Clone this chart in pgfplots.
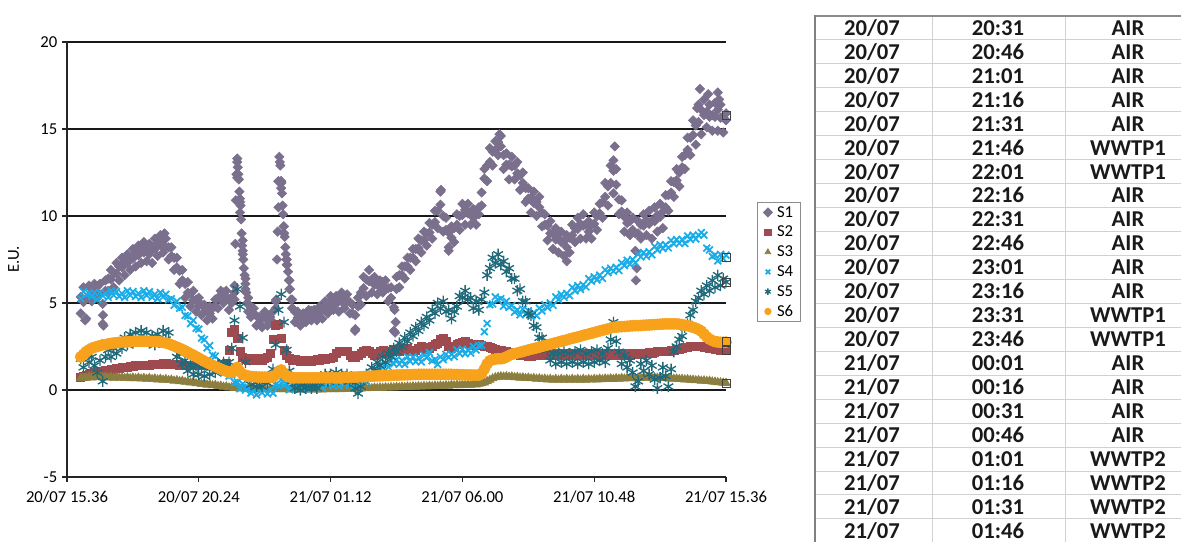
\documentclass[border=0pt]{standalone}
\usepackage{pgfplots}
\pgfplotsset{compat=1.18}
\usepackage{pgfplotstable}
\usepackage{fontspec}
\setmainfont{Carlito}

\definecolor{cS1}{RGB}{122,111,140}
\definecolor{cS2}{RGB}{158,74,78}
\definecolor{cS3}{RGB}{140,126,62}
\definecolor{cS4}{RGB}{26,172,230}
\definecolor{cS5}{RGB}{30,105,122}
\definecolor{cS6}{RGB}{248,162,28}
\newcommand\tabfont{\fontsize{17}{20}\selectfont\bfseries}

% h = hours after 20/07 15.36 ; a,b = two S1 readings per step
\pgfplotstableread{
h a b s2 s3 s4 s5 s6
0.5 5.35 4.4 0.75 0.68 5.25 1.8 1.9
0.6 5.9 5.05 0.8 0.74 5.65 1.3 2.05
0.7 5.25 4.1 0.85 0.70 5.48 2.1 2.2
0.8 6.0 5.35 0.9 0.76 5.55 1.6 2.3
0.9 5.8 5.1 0.95 0.71 5.37 1.9 2.4
1.0 6.1 5.65 1.0 0.76 5.6 1.4 2.45
1.1 5.95 5.3 1.05 0.72 5.2 1.0 2.5
1.2 6.1 5.5 1.1 0.77 5.6 1.7 2.55
1.3 4.95 3.8 1.1 0.72 5.43 0.5 2.6
1.4 6.3 5.7 1.15 0.76 5.55 1.9 2.6
1.5 6.4 5.7 1.15 0.71 5.32 2.3 2.65
1.6 6.9 6.35 1.2 0.75 5.7 1.9 2.68
1.7 6.7 5.9 1.2 0.70 5.45 2.4 2.7
1.8 7.3 6.7 1.25 0.74 5.65 2.1 2.72
1.9 7.1 6.3 1.25 0.69 5.38 2.7 2.74
2.0 7.6 7.05 1.3 0.73 5.55 2.4 2.75
2.1 7.35 6.6 1.3 0.68 5.32 3.0 2.76
2.2 7.8 7.3 1.3 0.72 5.7 2.6 2.77
2.3 7.6 6.9 1.35 0.67 5.45 3.2 2.78
2.4 8.1 7.55 1.35 0.71 5.65 2.7 2.79
2.5 7.85 7.1 1.4 0.66 5.38 3.3 2.8
2.6 8.3 7.75 1.4 0.70 5.55 2.8 2.8
2.7 8.05 7.3 1.4 0.65 5.32 3.4 2.8
2.8 8.5 7.9 1.45 0.69 5.7 2.9 2.8
2.9 8.2 7.4 1.45 0.64 5.45 3.3 2.8
3.0 8.4 7.8 1.45 0.68 5.65 2.7 2.8
3.1 8.1 7.3 1.5 0.62 5.33 3.1 2.79
3.2 8.7 8.1 1.5 0.66 5.5 2.6 2.79
3.3 8.45 7.7 1.5 0.60 5.24 3.2 2.78
3.4 8.9 8.35 1.5 0.64 5.6 2.8 2.76
3.5 8.6 7.9 1.55 0.58 5.35 3.4 2.73
3.6 8.7 8.2 1.55 0.62 5.5 2.9 2.7
3.7 8.2 7.5 1.5 0.56 5.18 3.3 2.66
3.8 8.2 7.7 1.5 0.59 5.25 2.6 2.6
3.9 7.6 6.9 1.5 0.53 4.87 2.5 2.53
4.0 7.6 7.05 1.5 0.56 5.1 1.9 2.46
4.1 6.85 6.1 1.45 0.50 4.7 2.1 2.4
4.2 6.9 6.3 1.45 0.52 4.75 1.5 2.33
4.3 6.1 5.3 1.45 0.46 4.28 1.7 2.25
4.4 6.2 5.6 1.4 0.48 4.25 1.1 2.17
4.5 5.55 4.8 1.4 0.42 3.82 1.4 2.08
4.6 5.7 5.15 1.4 0.44 4.0 0.9 2.0
4.7 5.2 4.5 1.4 0.38 3.55 1.4 1.92
4.8 5.3 4.85 1.4 0.40 3.5 0.9 1.83
4.9 4.9 4.3 1.4 0.34 2.98 1.3 1.74
5.0 4.9 4.5 1.4 0.36 2.9 0.8 1.65
5.1 4.55 4.0 1.4 0.30 2.42 1.4 1.57
5.2 4.8 4.4 1.4 0.32 2.55 0.9 1.5
5.3 4.7 4.1 1.4 0.26 2.0 1.3 1.42
5.4 5.2 4.8 1.45 0.28 1.95 1.0 1.35
5.5 5.3 4.7 1.45 0.22 1.43 1.5 1.28
5.6 5.7 5.3 1.5 0.24 1.4 1.2 1.2
5.7 5.6 5.0 1.5 0.18 0.97 1.6 1.14
5.8 5.7 5.25 1.55 0.20 1.2 1.3 1.08
5.9 5.25 4.6 2.3 0.14 0.8 1.6 1.02
6.0 5.3 5.0 3.3 0.16 0.85 2.4 1.0
6.1 6.0 5.2 3.5 0.11 0.43 4.0 1.15
6.2 13.1 12.2 3.0 0.13 0.45 5.8 1.3
6.3 11.0 10.2 2.2 0.08 0.07 4.8 1.05
6.4 8.6 7.8 1.9 0.10 0.35 3.0 0.9
6.5 6.4 5.8 1.8 0.06 0.0 1.6 0.85
6.6 5.3 4.9 1.7 0.08 0.15 0.8 0.8
6.7 4.8 4.2 1.8 0.04 -0.17 0.3 0.78
6.8 4.7 4.35 1.7 0.07 -0.05 0.6 0.76
6.9 4.25 3.7 1.75 0.03 -0.28 0.2 0.75
7.0 4.2 3.85 1.8 0.06 0.1 0.5 0.74
7.1 4.2 3.6 1.7 0.03 -0.15 0.2 0.74
7.2 4.5 4.15 1.8 0.06 0.0 0.6 0.74
7.3 4.2 3.7 1.9 0.03 -0.22 0.4 0.74
7.4 4.2 3.9 2.1 0.06 0.0 0.7 0.74
7.5 4.5 3.9 2.9 0.03 -0.18 1.2 0.74
7.6 5.1 4.7 3.7 0.06 0.3 2.6 0.85
7.7 12.0 10.5 3.8 0.03 0.25 4.6 1.05
7.8 12.0 11.6 3.0 0.06 0.6 5.5 1.15
7.9 9.4 9.0 2.3 0.03 0.28 3.9 0.95
8.0 7.5 7.2 2.0 0.05 0.35 2.3 0.82
8.1 6.3 5.8 1.8 0.02 0.02 1.1 0.75
8.2 5.2 4.7 1.7 0.05 0.35 0.5 0.7
8.3 4.5 3.9 1.75 0.02 0.15 0.1 0.7
8.4 4.5 4.15 1.7 0.05 0.35 0.4 0.7
8.5 4.25 3.7 1.65 0.02 0.13 0.0 0.7
8.6 4.4 4.1 1.7 0.05 0.3 0.3 0.7
8.7 4.4 3.9 1.65 0.02 0.07 0.1 0.7
8.8 4.6 4.3 1.7 0.05 0.45 0.4 0.7
8.9 4.55 4.0 1.65 0.02 0.25 0.1 0.7
9.0 4.6 4.25 1.7 0.05 0.45 0.3 0.7
9.1 4.5 4.0 1.75 0.02 0.18 0.1 0.7
9.2 4.8 4.45 1.7 0.05 0.35 0.4 0.7
9.3 4.7 4.1 1.8 0.02 0.12 0.6 0.7
9.4 5.1 4.7 1.75 0.05 0.5 0.9 0.7
9.5 5.0 4.4 1.8 0.03 0.3 0.5 0.7
9.6 5.4 4.95 1.85 0.06 0.5 0.9 0.7
9.7 5.25 4.6 1.9 0.03 0.23 0.6 0.7
9.8 5.4 4.95 2.1 0.06 0.4 1.0 0.7
9.9 5.15 4.5 2.2 0.04 0.22 0.6 0.7
10.0 5.6 5.1 2.2 0.07 0.6 0.9 0.7
10.1 5.4 4.7 2.25 0.05 0.35 0.6 0.72
10.2 5.5 5.05 2.2 0.08 0.55 0.9 0.72
10.3 5.05 4.4 2.0 0.06 0.28 0.5 0.73
10.4 4.9 4.4 1.9 0.09 0.5 0.6 0.74
10.5 4.3 3.5 1.9 0.07 0.27 0.1 0.74
10.6 5.3 4.8 2.0 0.10 0.65 -0.2 0.75
10.7 5.6 4.9 2.1 0.08 0.45 0.2 0.76
10.8 6.5 5.85 2.2 0.11 0.7 0.6 0.77
10.9 6.35 5.4 2.3 0.09 0.48 0.9 0.77
11.0 6.9 6.25 2.25 0.12 0.8 0.8 0.78
11.1 6.35 5.6 2.1 0.10 0.72 1.3 0.8
11.2 6.5 6.05 2.0 0.13 1.2 1.1 0.8
11.3 6.1 5.5 2.1 0.11 1.1 1.6 0.81
11.4 6.3 5.9 2.2 0.14 1.45 1.4 0.82
11.5 6.2 5.6 2.3 0.12 1.28 1.9 0.82
11.6 6.3 5.85 2.2 0.15 1.5 1.6 0.83
11.7 5.85 5.1 2.1 0.13 1.32 2.1 0.84
11.8 5.9 5.3 2.2 0.16 1.7 1.9 0.84
11.9 4.75 3.4 2.35 0.14 1.5 2.4 0.85
12.0 6.5 5.8 2.3 0.17 1.75 2.2 0.86
12.1 6.6 5.9 2.2 0.15 1.48 2.7 0.86
12.2 7.1 6.6 2.3 0.18 1.7 2.5 0.87
12.3 7.1 6.4 2.4 0.16 1.47 3.0 0.87
12.4 7.6 7.1 2.4 0.19 1.9 2.8 0.88
12.5 7.6 6.9 2.3 0.17 1.65 3.3 0.88
12.6 8.1 7.6 2.2 0.20 1.9 3.1 0.89
12.7 8.1 7.4 2.3 0.18 1.63 3.6 0.89
12.8 8.7 8.15 2.4 0.21 1.85 3.4 0.9
12.9 8.6 7.9 2.5 0.19 1.62 3.9 0.9
13.0 9.1 8.6 2.45 0.22 2.0 3.7 0.9
13.1 9.0 8.3 2.35 0.20 1.85 4.2 0.9
13.2 9.6 9.05 2.4 0.23 2.15 4.0 0.9
13.3 9.5 8.7 2.5 0.21 1.68 4.6 0.9
13.4 10.3 9.65 2.6 0.24 1.75 4.4 0.9
13.5 10.3 9.3 2.7 0.22 1.47 5.0 0.9
13.6 11.4 10.65 2.9 0.25 1.9 4.7 0.9
13.7 10.0 9.1 3.0 0.23 1.75 5.1 0.9
13.8 9.9 9.2 2.8 0.26 2.05 4.5 0.9
13.9 9.05 8.2 2.5 0.24 1.88 4.6 0.9
14.0 9.4 8.75 2.4 0.28 2.05 4.1 0.9
14.1 9.3 8.5 2.5 0.26 1.92 4.5 0.89
14.2 10.1 9.5 2.6 0.29 2.3 4.8 0.89
14.3 10.0 9.2 2.7 0.27 2.1 5.4 0.88
14.4 10.7 10.05 2.75 0.30 2.35 5.3 0.88
14.5 10.35 9.5 2.8 0.28 2.08 5.7 0.87
14.6 10.7 10.15 2.7 0.31 2.3 5.2 0.87
14.7 10.2 9.5 2.6 0.29 2.12 5.3 0.86
14.8 10.4 9.9 2.55 0.33 2.5 4.7 0.86
14.9 10.15 9.5 2.6 0.31 2.3 5.1 0.85
15.0 10.5 10.1 2.6 0.35 2.55 4.6 0.85
15.1 11.35 10.6 2.55 0.38 2.58 5.2 0.95
15.2 12.7 12.15 2.5 0.42 3.35 5.6 1.2
15.3 12.9 12.0 2.5 0.50 3.82 6.6 1.5
15.4 13.9 13.1 2.45 0.58 4.9 7.0 1.68
15.5 13.7 12.9 2.4 0.66 4.95 7.6 1.75
15.6 14.3 13.8 2.35 0.72 5.35 7.3 1.78
15.7 14.25 13.5 2.3 0.76 5.18 7.8 1.8
15.8 14.6 14.0 2.3 0.78 5.25 7.2 1.8
15.9 13.5 12.7 2.25 0.76 4.82 7.4 1.82
16.0 13.6 12.95 2.2 0.78 5.1 6.8 1.9
16.1 12.95 12.1 2.15 0.75 4.75 7.0 1.98
16.2 13.4 12.85 2.1 0.77 4.85 6.4 2.05
16.3 12.9 12.1 2.1 0.73 4.48 6.4 2.09
16.4 13.1 12.45 2.05 0.74 4.6 5.7 2.13
16.5 12.35 11.5 2.0 0.70 4.32 5.8 2.17
16.6 12.5 11.9 2.0 0.72 4.65 5.1 2.21
16.7 11.6 10.8 2.0 0.68 4.35 5.1 2.26
16.8 11.6 11.0 1.95 0.70 4.55 4.4 2.3
16.9 11.05 10.2 1.95 0.66 4.23 4.3 2.34
17.0 11.4 10.75 2.0 0.68 4.45 3.7 2.38
17.1 10.8 10.0 2.05 0.64 4.27 3.6 2.42
17.2 11.1 10.5 2.0 0.66 4.7 3.0 2.46
17.3 10.2 9.4 2.1 0.62 4.55 3.0 2.51
17.4 10.1 9.5 2.05 0.64 4.9 2.5 2.55
17.5 9.45 8.6 2.0 0.60 4.73 2.3 2.59
17.6 9.7 9.0 2.1 0.63 5.0 1.7 2.63
17.7 9.0 8.1 2.05 0.58 4.87 2.1 2.67
17.8 9.3 8.65 2.0 0.63 5.35 1.5 2.72
17.9 8.75 7.9 2.1 0.58 5.2 2.1 2.76
18.0 9.1 8.5 2.05 0.63 5.5 1.6 2.8
18.1 8.55 7.7 2.0 0.58 5.33 2.2 2.84
18.2 8.9 8.2 2.1 0.63 5.55 1.5 2.88
18.3 8.75 7.9 2.05 0.58 5.42 2.1 2.93
18.4 9.5 8.9 2.0 0.63 5.9 1.6 2.97
18.5 9.3 8.5 2.1 0.58 5.7 2.2 3.01
18.6 9.9 9.25 2.05 0.63 6.0 1.5 3.05
18.7 9.55 8.7 2.0 0.58 5.78 2.3 3.09
18.8 10.1 9.45 2.1 0.63 6.05 1.6 3.14
18.9 9.5 8.7 2.05 0.58 5.92 2.1 3.18
19.0 9.7 9.1 2.0 0.62 6.4 1.5 3.22
19.1 9.5 8.7 2.1 0.59 6.25 2.2 3.26
19.2 10.2 9.55 2.05 0.63 6.5 1.6 3.3
19.3 10.0 9.2 2.0 0.60 6.33 2.3 3.35
19.4 10.7 10.15 2.1 0.64 6.6 1.7 3.39
19.5 10.8 9.9 2.05 0.61 6.42 2.1 3.43
19.6 11.9 11.1 2.0 0.65 6.9 1.6 3.47
19.7 11.7 10.6 2.1 0.62 6.75 2.4 3.51
19.8 12.9 11.9 2.05 0.66 7.0 2.9 3.56
19.9 12.6 11.3 2.0 0.63 6.83 3.9 3.6
20.0 12.7 11.8 2.1 0.67 7.05 2.8 3.62
20.1 10.95 10.1 2.05 0.64 6.87 2.2 3.63
20.2 10.9 10.25 2.0 0.68 7.3 1.5 3.64
20.3 9.95 9.1 2.1 0.65 7.15 2.0 3.65
20.4 10.2 9.6 2.05 0.69 7.45 1.3 3.66
20.5 9.7 8.9 2.0 0.66 7.23 1.7 3.68
20.6 9.9 9.2 2.1 0.70 7.5 1.0 3.69
20.7 9.0 8.0 2.05 0.67 7.32 0.2 3.7
20.8 9.7 9.0 2.1 0.71 7.8 0.5 3.7
20.9 9.5 8.7 2.05 0.68 7.65 1.5 3.71
21.0 10.1 9.45 2.1 0.72 7.9 1.1 3.72
21.1 9.75 8.9 2.1 0.69 7.68 1.7 3.73
21.2 10.3 9.55 2.15 0.72 7.95 0.9 3.74
21.3 9.75 8.7 2.1 0.69 7.77 1.4 3.75
21.4 10.5 9.7 2.15 0.72 8.25 0.6 3.76
21.5 10.05 9.1 2.2 0.70 8.05 0.1 3.77
21.6 10.7 9.95 2.2 0.71 8.35 0.7 3.78
21.7 10.25 9.3 2.2 0.68 8.13 1.3 3.79
21.8 11.2 10.5 2.25 0.69 8.35 0.8 3.8
21.9 11.2 10.3 2.25 0.66 8.17 0.2 3.8
22.0 12.0 11.35 2.3 0.67 8.6 1.2 3.8
22.1 11.95 11.1 2.3 0.64 8.4 2.2 3.8
22.2 12.7 12.05 2.35 0.65 8.65 2.5 3.8
22.3 12.5 11.7 2.35 0.62 8.43 2.9 3.78
22.4 13.4 12.8 2.4 0.63 8.65 3.1 3.76
22.5 13.5 12.7 2.45 0.60 8.42 3.6 3.72
22.6 14.5 13.8 2.45 0.61 8.85 3.8 3.7
22.7 14.5 13.5 2.5 0.58 8.65 4.3 3.65
22.8 15.5 14.65 2.5 0.58 8.9 4.6 3.6
22.9 15.2 14.1 2.5 0.55 8.68 5.1 3.55
23.0 16.4 15.4 2.5 0.56 8.9 5.3 3.48
23.1 16.1 14.7 2.5 0.53 9.05 5.7 3.38
23.2 16.7 15.8 2.45 0.54 8.9 5.5 3.22
23.3 16.0 15.1 2.45 0.51 8.15 6.0 3.05
23.4 16.4 15.7 2.4 0.52 8.05 5.7 2.92
23.5 15.8 14.9 2.4 0.48 7.68 6.3 2.84
23.6 16.5 15.7 2.35 0.47 7.75 5.9 2.78
23.7 16.1 14.9 2.35 0.44 7.42 6.6 2.76
23.8 16.4 15.65 2.3 0.43 7.8 6.0 2.74
23.9 15.65 14.8 2.3 0.41 7.55 6.4 2.74
24.0 15.9 15.5 2.3 0.40 7.75 6.2 2.75
}\sdata

% further S1 readings: the two fast peaks and isolated outliers
\pgfplotstableread{
h v
6.10 5.6
6.13 8.4
6.15 10.9
6.17 12.4
6.20 13.3
6.22 12.8
6.24 12.4
6.26 12.1
6.28 11.4
6.30 10.8
6.32 10.6
6.34 9.8
6.36 9.0
6.38 8.3
6.40 8.0
6.42 7.5
6.44 7.0
6.47 6.6
6.50 6.1
6.53 5.6
6.56 5.0
6.60 4.5
7.62 5.2
7.65 7.5
7.67 9.1
7.70 12.0
7.73 13.4
7.75 13.1
7.77 12.9
7.79 12.0
7.81 11.9
7.83 11.3
7.85 10.6
7.87 10.1
7.89 9.4
7.91 9.0
7.93 8.8
7.95 8.2
7.97 7.8
7.99 7.5
8.02 7.2
8.05 6.8
8.08 6.3
8.12 5.8
8.16 5.2
8.20 4.7
0.66 4.0
1.31 4.3
1.33 3.7
3.45 8.3
3.55 9.0
10.49 3.4
11.93 4.6
11.95 3.3
11.97 3.9
13.62 11.5
13.90 8.0
15.75 14.7
18.20 7.4
19.90 13.2
19.95 14.0
20.72 6.3
20.75 7.0
22.95 16.2
23.05 17.3
23.35 17.0
23.70 17.1
23.75 16.7
}\sonex

\begin{document}
\begin{tikzpicture}
\useasboundingbox (0pt,0pt) rectangle (885.75pt,406.5pt);
\begin{axis}[
  at={(50.25pt,48.75pt)}, anchor=south west,
  width=494.25pt, height=326.25pt, scale only axis,
  xmin=0, xmax=24, ymin=-5, ymax=20,
  axis lines*=left,
  axis line style={black!85, line width=1pt},
  xtick={0,4.8,9.6,14.4,19.2,24},
  xticklabels={20/07 15.36,20/07 20.24,21/07 01.12,21/07 06.00,21/07 10.48,21/07 15.36},
  ytick={-5,0,5,10,15,20},
  yticklabels={-5,0,5,10,15,20},
  tick align=outside, major tick length=3.75pt,
  tick style={black!85, line width=0.8pt},
  ymajorgrids, grid style={black!90, line width=0.8pt},
  tick label style={font=\fontsize{12.5}{15}\selectfont},
  xticklabel style={yshift=-3pt},
  ylabel={E.U.},
  ylabel style={font=\fontsize{12.5}{15}\selectfont, at={(axis description cs:-0.081,0.5)}, anchor=center},
  clip=false,
  legend cell align=left,
  legend style={at={(axis description cs:1.047,0.632)}, anchor=north west,
    draw=black!45, line width=0.6pt, fill=white,
    font=\fontsize{12.5}{14}\selectfont,
    inner xsep=4.5pt, inner ysep=1.5pt, row sep=2.85pt,
    nodes={inner sep=1pt, text height=8.5pt, text depth=1.5pt},
    /tikz/every odd column/.append style={column sep=2.5pt}},
  legend image code/.code={\draw[#1, mark size=2.4pt] plot coordinates {(0.15cm,0cm)};},
]
\addplot[only marks, color=cS1, mark=square*, mark size=2.5pt, mark options={rotate=45}] table[x=h,y=a]{\sdata};
\addplot[only marks, color=cS1, mark=square*, mark size=2.5pt, mark options={rotate=45}, forget plot] table[x=h,y=b]{\sdata};
\addplot[only marks, color=cS1, mark=square*, mark size=2.5pt, mark options={rotate=45}, forget plot] table[x=h,y=v]{\sonex};
\addplot[only marks, color=cS2, mark=square*, mark size=3pt] table[x=h,y=s2]{\sdata};
\addplot[only marks, color=cS3, mark=triangle*, mark size=3.7pt] table[x=h,y=s3]{\sdata};
\addplot[only marks, color=cS4, mark=x, mark size=3.6pt, mark options={line width=1.3pt}] table[x=h,y=s4]{\sdata};
\addplot[only marks, color=cS5, mark=asterisk, mark size=4.2pt, mark options={line width=1pt}] table[x=h,y=s5]{\sdata};
\addplot[only marks, color=cS6, mark=*, mark size=4.2pt] table[x=h,y=s6]{\sdata};
\addplot[only marks, black!75, mark=square, mark size=3pt, mark options={line width=0.6pt}, forget plot]
  coordinates {(24,15.8) (24,7.6) (24,6.2) (24,2.8) (24,2.3) (24,0.4)};
\legend{S1,S2,S3,S4,S5,S6}
\end{axis}

% table on the right
\foreach \k in {1,...,22} {
  \draw[black!18, line width=0.75pt] ({611.25pt},{394.5pt-17.9625pt*\k}) -- ({885.75pt},{394.5pt-17.9625pt*\k});
}
\draw[black!18, line width=0.75pt] (699pt,0pt) -- (699pt,394.5pt);
\draw[black!18, line width=0.75pt] (798.75pt,0pt) -- (798.75pt,394.5pt);
\draw[black!45, line width=0.9pt] (611.25pt,394.5pt) -- (885.75pt,394.5pt);
\draw[black!50, line width=1.5pt] (611.25pt,0pt) -- (611.25pt,395pt);
\foreach \d/\t/\s [count=\k from 0] in {
 {20/07}/20:31/AIR, {20/07}/20:46/AIR, {20/07}/21:01/AIR, {20/07}/21:16/AIR,
 {20/07}/21:31/AIR, {20/07}/21:46/WWTP1, {20/07}/22:01/WWTP1, {20/07}/22:16/AIR,
 {20/07}/22:31/AIR, {20/07}/22:46/AIR, {20/07}/23:01/AIR, {20/07}/23:16/AIR,
 {20/07}/23:31/WWTP1, {20/07}/23:46/WWTP1, {21/07}/00:01/AIR, {21/07}/00:16/AIR,
 {21/07}/00:31/AIR, {21/07}/00:46/AIR, {21/07}/01:01/WWTP2, {21/07}/01:16/WWTP2,
 {21/07}/01:31/WWTP2, {21/07}/01:46/WWTP2} {
  \pgfmathsetmacro\yy{385.5-17.9625*\k-5.5}
  \node[font=\tabfont, anchor=base, inner sep=0pt, black!90] at (654pt,\yy pt) {\d};
  \node[font=\tabfont, anchor=base, inner sep=0pt, black!90] at (748.5pt,\yy pt) {\t};
  \node[font=\tabfont, anchor=base, inner sep=0pt, black!90] at (846pt,\yy pt) {\s};
}
\end{tikzpicture}
\end{document}
